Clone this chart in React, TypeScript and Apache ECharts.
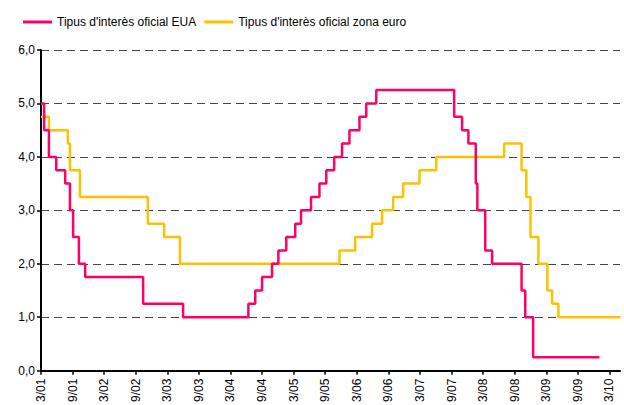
import React, { useEffect, useRef } from "react";
import * as echarts from "echarts";

// x positions are months counted from the first tick ("3/01")
const tickLabels = ["3/01", "9/01", "3/02", "9/02", "3/03", "9/03", "3/04", "9/04", "3/05", "9/05", "3/06", "9/06", "3/07", "9/07", "3/08", "9/08", "3/09", "9/09", "3/10"];

const usMonths = [0, 0.6, 1.5, 2.9, 4.6, 5.5, 6.1, 7.2, 8.4, 19.4, 27.0, 39.4, 40.7, 42.0, 43.9, 45.1, 46.6, 48.3, 49.4, 51.3, 52.9, 54.2, 55.7, 57.2, 58.6, 60.5, 61.8, 63.7, 78.5, 80.0, 81.2, 82.6, 82.9, 84.4, 85.7, 91.3, 92.0, 93.5];
const usRates = [5.0, 4.5, 4.0, 3.75, 3.5, 3.0, 2.5, 2.0, 1.75, 1.25, 1.0, 1.25, 1.5, 1.75, 2.0, 2.25, 2.5, 2.75, 3.0, 3.25, 3.5, 3.75, 4.0, 4.25, 4.5, 4.75, 5.0, 5.25, 4.75, 4.5, 4.25, 3.5, 3.0, 2.25, 2.0, 1.5, 1.0, 0.25];
const usEnd = 106.1;

const euMonths = [0, 1.5, 5.1, 5.5, 7.4, 20.3, 23.4, 26.4, 56.7, 59.7, 62.9, 64.8, 66.9, 68.8, 71.9, 75.1, 88.0, 91.3, 92.2, 93.0, 94.5, 96.2, 97.1, 98.3];
const euRates = [4.75, 4.5, 4.25, 3.75, 3.25, 2.75, 2.5, 2.0, 2.25, 2.5, 2.75, 3.0, 3.25, 3.5, 3.75, 4.0, 4.25, 3.75, 3.25, 2.5, 2.0, 1.5, 1.25, 1.0];
const euEnd = 110.1;

const seriesNames = ["Tipus d'interès oficial EUA", "Tipus d'interès oficial zona euro"];

function buildSteps(months: number[], rates: number[], end: number) {
  const d = months.map((m, i) => [m, rates[i]]);
  d.push([end, rates[rates.length - 1]]);
  return d;
}

export default function App() {
  const ref = useRef<HTMLDivElement>(null);
  useEffect(() => {
    if (!ref.current) return;
    const chart = echarts.init(ref.current, undefined, { renderer: "svg" });
    const font = "'Liberation Sans', Arial, sans-serif";
    chart.setOption({
      animation: false,
      textStyle: { fontFamily: font },
      legend: {
        left: 18,
        top: 11,
        itemWidth: 29,
        itemHeight: 3,
        itemGap: 8,
        icon: "rect",
        textStyle: { fontSize: 12, color: "#000", fontFamily: font },
        data: seriesNames,
      },
      grid: { left: 41, right: 4, top: 50, bottom: 34, containLabel: false },
      xAxis: {
        type: "value",
        min: 0,
        max: 110,
        interval: 6,
        axisLine: { show: true, onZero: false, lineStyle: { color: "#000", width: 2 } },
        axisTick: { show: true, length: 4, lineStyle: { color: "#000", width: 1.5 } },
        splitLine: { show: false },
        axisLabel: {
          rotate: 90,
          margin: 8,
          fontSize: 12,
          color: "#000",
          fontFamily: font,
          showMaxLabel: false,
          formatter: (v: number) => tickLabels[Math.round(v / 6)] ?? "",
        },
      },
      yAxis: {
        type: "value",
        min: 0,
        max: 6,
        interval: 1,
        axisLine: { show: true, lineStyle: { color: "#000", width: 2 } },
        axisTick: { show: true, length: 4, lineStyle: { color: "#000", width: 1.5 } },
        axisLabel: {
          fontSize: 12,
          color: "#000",
          margin: 6,
          fontFamily: font,
          formatter: (v: number) => v.toFixed(1).replace(".", ","),
        },
        splitLine: { show: true, lineStyle: { color: "#444", type: [8, 5], width: 1.2 } },
      },
      series: [
        {
          name: seriesNames[0],
          type: "line",
          step: "end",
          showSymbol: false,
          color: "#FF0066",
          lineStyle: { width: 2.5, color: "#FF0066" },
          data: buildSteps(usMonths, usRates, usEnd),
          z: 3,
        },
        {
          name: seriesNames[1],
          type: "line",
          step: "end",
          showSymbol: false,
          color: "#FFC000",
          lineStyle: { width: 2.5, color: "#FFC000" },
          data: buildSteps(euMonths, euRates, euEnd),
          z: 2,
        },
      ],
    });
    return () => chart.dispose();
  }, []);
  return <div ref={ref} style={{ width: 624, height: 405, position: "absolute", left: 0, top: 0 }} />;
}
